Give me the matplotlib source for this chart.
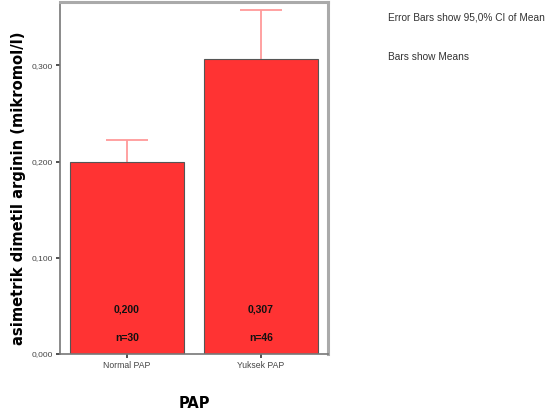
import matplotlib
matplotlib.use("Agg")
import matplotlib.pyplot as plt

categories = ["Normal PAP", "Yuksek PAP"]
means = [0.200, 0.307]
ci_lower = [0.176, 0.257]
ci_upper = [0.223, 0.358]
counts = [30, 46]
mean_labels = ["0,200", "0,307"]
y_ticks = [0.0, 0.1, 0.2, 0.3]
y_tick_labels = ["0,000", "0,100", "0,200", "0,300"]

narrow = ["Liberation Sans Narrow", "Liberation Sans", "DejaVu Sans"]
bold_font = ["DejaVu Sans"]

fig = plt.figure(figsize=(5.48, 4.17), dpi=100)
ax = fig.add_axes([60 / 548, 1 - 354 / 417, 268 / 548, 352 / 417])

x = list(range(len(categories)))
bar_color = "#ff3333"
err_color = "#ff9a9a"

yerr = [[m - lo for m, lo in zip(means, ci_lower)],
        [hi - m for m, hi in zip(means, ci_upper)]]
ax.errorbar(x, means, yerr=yerr, fmt="none", ecolor=err_color,
            elinewidth=1.3, capsize=15, capthick=1.3, zorder=1)
ax.bar(x, means, width=0.855, color=bar_color, edgecolor="#555555",
       linewidth=0.8, zorder=2)

for xi, lab, n in zip(x, mean_labels, counts):
    ax.text(xi, 0.046, lab, ha="center", va="center", fontsize=7.5,
            fontweight="bold", family=narrow, color="#111111", zorder=3)
    ax.text(xi, 0.017, f"n={n}", ha="center", va="center", fontsize=7.5,
            fontweight="bold", family=narrow, color="#111111", zorder=3)

ax.set_xlim(-0.5, 1.5)
ax.set_ylim(0, 0.366)
ax.set_yticks(y_ticks)
ax.set_yticklabels(y_tick_labels, family=narrow, fontsize=6, color="#444444")
ax.set_xticks(x)
ax.set_xticklabels(categories, family=narrow, fontsize=6.2, color="#444444")
ax.tick_params(axis="both", length=3, width=1.2, color="#333333", pad=2)

for side in ["left", "bottom"]:
    ax.spines[side].set_color("#777777")
    ax.spines[side].set_linewidth(1.2)
for side in ["top", "right"]:
    ax.spines[side].set_color("#aaaaaa")
    ax.spines[side].set_linewidth(2.2)

ax.set_ylabel("asimetrik dimetil arginin (mikromol/l)", family=bold_font,
              fontsize=10.6, fontweight="bold")
ax.yaxis.set_label_coords(-0.128, 0.47)
ax.set_xlabel("PAP", family=bold_font, fontsize=10.5, fontweight="bold")
ax.xaxis.set_label_coords(0.5, -0.12)

fig.text(388 / 548, 1 - 17 / 417, "Error Bars show 95,0% CI of Mean",
         family=narrow, fontsize=7.3, color="#333333", va="center")
fig.text(388 / 548, 1 - 57 / 417, "Bars show Means",
         family=narrow, fontsize=7.3, color="#333333", va="center")

fig.savefig("out.png", dpi=100)
